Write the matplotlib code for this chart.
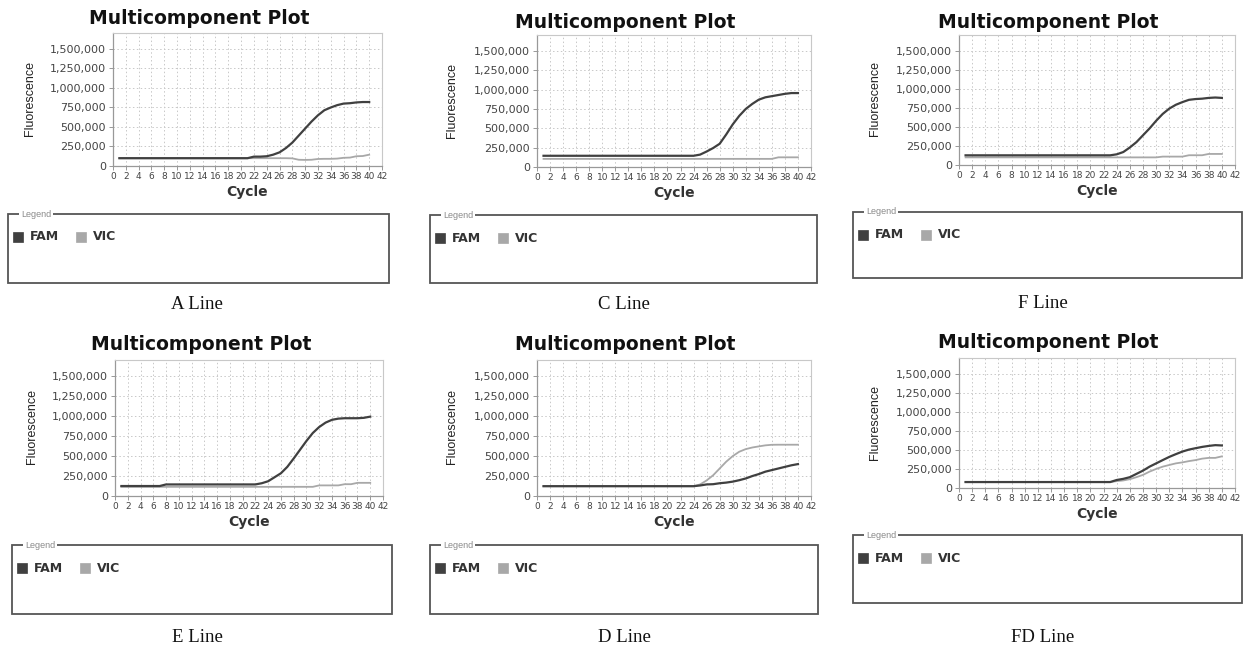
import matplotlib
matplotlib.use("Agg")
import matplotlib.pyplot as plt
from matplotlib.patches import Rectangle
from matplotlib.ticker import FuncFormatter

W, H = 1252, 651

cycles = list(range(1, 41))

a_fam = [100, 100, 100, 100, 100, 100, 100, 100, 100, 100, 100, 100, 100, 100, 100, 100, 100, 100, 100, 100,
         100, 120, 120, 125, 145, 175, 230, 300, 390, 480, 570, 650, 715, 750, 780, 800, 805, 815, 820, 820]
a_vic = [100, 100, 100, 100, 100, 100, 100, 100, 100, 100, 100, 100, 100, 100, 100, 100, 100, 100, 100, 100,
         100, 100, 100, 100, 100, 100, 100, 98, 80, 78, 80, 90, 92, 92, 95, 105, 108, 125, 128, 145]

c_fam = [145, 145, 145, 145, 145, 145, 145, 145, 145, 145, 145, 145, 145, 145, 145, 145, 145, 145, 145, 145,
         145, 145, 145, 145, 160, 200, 245, 300, 420, 550, 660, 750, 815, 870, 900, 915, 930, 945, 955, 955]
c_vic = [105, 105, 105, 105, 105, 105, 105, 105, 105, 105, 105, 105, 105, 105, 105, 105, 105, 105, 105, 105,
         105, 105, 105, 105, 105, 105, 105, 105, 105, 105, 105, 105, 105, 105, 105, 105, 125, 125, 125, 125]

f_fam = [127, 127, 127, 127, 127, 127, 127, 127, 127, 127, 127, 127, 127, 127, 127, 127, 127, 127, 127, 127,
         127, 127, 127, 140, 170, 230, 300, 390, 480, 580, 670, 740, 790, 825, 855, 865, 870, 880, 885, 880]
f_vic = [100, 100, 100, 100, 100, 100, 100, 100, 100, 100, 100, 100, 100, 100, 100, 100, 100, 100, 100, 100,
         100, 100, 100, 100, 100, 100, 100, 100, 100, 100, 110, 110, 110, 110, 128, 128, 128, 145, 145, 145]

e_fam = [125, 125, 125, 125, 125, 125, 125, 145, 145, 145, 145, 145, 145, 145, 145, 145, 145, 145, 145, 145,
         145, 145, 160, 185, 235, 285, 365, 470, 580, 690, 790, 865, 920, 955, 970, 975, 975, 975, 980, 995]
e_vic = [115, 115, 115, 115, 115, 115, 115, 115, 115, 115, 115, 115, 115, 115, 115, 115, 115, 115, 115, 115,
         115, 115, 115, 115, 115, 115, 115, 115, 115, 115, 115, 133, 133, 133, 133, 148, 148, 165, 165, 165]

d_fam = [123, 123, 123, 123, 123, 123, 123, 123, 123, 123, 123, 123, 123, 123, 123, 123, 123, 123, 123, 123,
         123, 123, 123, 123, 132, 145, 148, 160, 168, 180, 198, 220, 250, 275, 305, 325, 345, 365, 385, 400]
d_vic = [123, 123, 123, 123, 123, 123, 123, 123, 123, 123, 123, 123, 123, 123, 123, 123, 123, 123, 123, 123,
         123, 123, 123, 123, 145, 195, 260, 345, 430, 500, 555, 588, 608, 622, 635, 642, 643, 643, 643, 643]

fd_fam = [78, 78, 78, 78, 78, 78, 78, 78, 78, 78, 78, 78, 78, 78, 78, 78, 78, 78, 78, 78,
          78, 78, 78, 105, 120, 142, 185, 228, 280, 323, 366, 408, 444, 478, 504, 522, 539, 552, 562, 558]
fd_vic = [78, 78, 78, 78, 78, 78, 78, 78, 78, 78, 78, 78, 78, 78, 78, 78, 78, 78, 78, 78,
          78, 78, 78, 90, 99, 116, 142, 172, 215, 250, 280, 302, 323, 336, 353, 366, 385, 395, 395, 415]

captions = ["A Line", "C Line", "F Line", "E Line", "D Line", "FD Line"]
fam_series = [a_fam, c_fam, f_fam, e_fam, d_fam, fd_fam]
vic_series = [a_vic, c_vic, f_vic, e_vic, d_vic, fd_vic]
series_names = ["FAM", "VIC"]
y_ticks = [0, 250000, 500000, 750000, 1000000, 1250000, 1500000]
x_ticks = list(range(0, 43, 2))

# layout in pixels
layout = [
    dict(ax=(113, 382, 33, 166), title=(199, 19), ylab=(30, 98), box=(8, 389, 214, 283), cap=(197, 305)),
    dict(ax=(537, 811, 35, 167), title=(625, 22), ylab=(452, 100), box=(430, 817, 215, 283), cap=(624, 305)),
    dict(ax=(959, 1235, 35, 165), title=(1048, 22), ylab=(875, 98), box=(853, 1242, 212, 278), cap=(1043, 304)),
    dict(ax=(115, 383, 360, 496), title=(201, 345), ylab=(32, 426), box=(12, 392, 545, 614), cap=(197, 637)),
    dict(ax=(537, 811, 360, 496), title=(625, 345), ylab=(452, 426), box=(430, 818, 545, 614), cap=(624, 637)),
    dict(ax=(959, 1235, 358, 488), title=(1048, 343), ylab=(875, 422), box=(853, 1242, 535, 603), cap=(1043, 637)),
]

FAM_C = "#404040"
VIC_C = "#a8a8a8"

fig = plt.figure(figsize=(W / 100, H / 100), dpi=100)
fig.patch.set_facecolor("white")


def fx(px):
    return px / W


def fy(py):
    return 1 - py / H


for i, lay in enumerate(layout):
    l, r, t, b = lay["ax"]
    ax = fig.add_axes([fx(l), fy(b), (r - l) / W, (b - t) / H])
    vals_f = [v * 1000 for v in fam_series[i]]
    vals_v = [v * 1000 for v in vic_series[i]]
    ax.plot(cycles, vals_v, color=VIC_C, lw=1.3, zorder=3)
    ax.plot(cycles, vals_f, color=FAM_C, lw=1.6, zorder=4)
    ax.set_xlim(0, 42)
    ax.set_ylim(0, 1705000)
    ax.set_xticks(x_ticks)
    ax.set_yticks(y_ticks)
    ax.yaxis.set_major_formatter(FuncFormatter(lambda v, p: f"{int(v):,}"))
    ax.tick_params(axis="x", labelsize=6.5, length=3, width=0.6, color="#888888",
                   labelcolor="#444444", pad=1.5)
    ax.tick_params(axis="y", labelsize=8, length=3, width=0.6, color="#888888",
                   labelcolor="#444444", pad=2)
    for lab in ax.get_xticklabels() + ax.get_yticklabels():
        lab.set_fontfamily("DejaVu Sans")
    ax.grid(True, color="#c8c8c8", linestyle=(0, (1.5, 2.5)), linewidth=0.7)
    ax.set_axisbelow(True)
    for side in ["top", "right"]:
        ax.spines[side].set_color("#c8c8c8")
        ax.spines[side].set_linewidth(0.8)
    for side in ["left", "bottom"]:
        ax.spines[side].set_color("#999999")
        ax.spines[side].set_linewidth(0.9)

    tx, ty = lay["title"]
    fig.text(fx(tx), fy(ty), "Multicomponent Plot", ha="center", va="center",
             fontsize=13.5, fontweight="bold", family="DejaVu Sans", color="#111111")
    yx, yy = lay["ylab"]
    fig.text(fx(yx), fy(yy), "Fluorescence", ha="center", va="center", rotation=90,
             fontsize=9, family="Liberation Sans", color="#222222")
    fig.text(fx((l + r) / 2), fy(b + 26), "Cycle", ha="center", va="center",
             fontsize=10, fontweight="bold", family="DejaVu Sans", color="#333333")

    bl, br, bt, bb = lay["box"]
    rect = Rectangle((fx(bl), fy(bb)), (br - bl) / W, (bb - bt) / H, transform=fig.transFigure,
                     fill=False, edgecolor="#555555", linewidth=1.3)
    fig.add_artist(rect)
    fig.text(fx(bl + 13), fy(bt), "Legend", ha="left", va="center", fontsize=6.5,
             family="Liberation Sans", color="#8a8a8a",
             bbox=dict(facecolor="white", edgecolor="none", pad=1.2))
    iy = bt + 23
    for k, (name, col) in enumerate(zip(series_names, [FAM_C, VIC_C])):
        sx = bl + 5 + k * 63
        fig.add_artist(Rectangle((fx(sx), fy(iy + 5)), 10 / W, 10 / H, transform=fig.transFigure,
                                 facecolor=col, edgecolor=col, linewidth=0.5))
        fig.text(fx(sx + 17), fy(iy), name, ha="left", va="center", fontsize=9,
                 fontweight="bold", family="DejaVu Sans", color="#333333")

    cx, cy = lay["cap"]
    fig.text(fx(cx), fy(cy), captions[i], ha="center", va="center", fontsize=13.5,
             family="Liberation Serif", color="#111111")

fig.savefig("out.png", dpi=100, facecolor="white")
